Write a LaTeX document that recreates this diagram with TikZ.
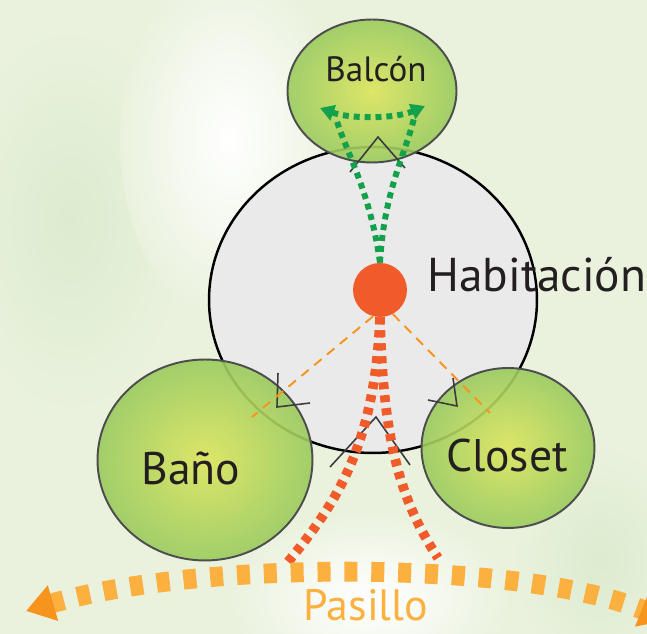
\documentclass[tikz,border=0pt]{standalone}
\usepackage{fontspec}
\setmainfont{PT Sans}
\usetikzlibrary{shapes.geometric, arrows.meta}

\definecolor{fondo}{HTML}{EAF2DE}
\definecolor{fondoV}{HTML}{DCEBCF}
\definecolor{gris}{HTML}{EAEAEA}
\definecolor{borde}{HTML}{4D4D4D}
\definecolor{puertaC}{HTML}{3C3C3C}
\definecolor{verdeC}{HTML}{DCE55C}
\definecolor{verdeB}{HTML}{9ACB5E}
\definecolor{verdeP}{HTML}{13A24B}
\definecolor{rojo}{HTML}{F15A29}
\definecolor{naranja}{HTML}{F7941D}
\definecolor{naranjaC}{HTML}{FBB040}
\definecolor{texto}{HTML}{231F20}

\begin{document}
\begin{tikzpicture}[
  x=0.02cm, y=-0.02cm,
  % Estilo general de los nodos
  every node/.style={inner sep=0pt, text=texto},
  % Zonas: habitación gris y espacios verdes
  habit/.style={ellipse, draw=black, line width=1.4pt, fill=gris},
  zona/.style={ellipse, draw=borde, line width=1.1pt, inner color=verdeC, outer color=verdeB, fill opacity=0.9},
  etiqueta/.style={anchor=base, font=\fontsize{26}{30}\selectfont},
  % Recorridos
  verdepunt/.style={draw=verdeP, line width=3.4pt, dash pattern=on 3.4pt off 2.8pt},
  rojopunt/.style={draw=rojo, line width=5.5pt, dash pattern=on 4pt off 3.4pt},
  naranjadash/.style={draw=naranja, line width=1.1pt, dash pattern=on 5.5pt off 4pt},
  pasillo/.style={draw=naranjaC, line width=11.3pt, dash pattern=on 7.4pt off 7.9pt,
    {Triangle[length=16pt, width=20pt, color=naranja]}-{Triangle[length=16pt, width=20pt, color=naranja]}},
  puerta/.style={draw=puertaC, line width=0.9pt}
]

  % Fondo
  \useasboundingbox (0,0) rectangle (647,634);
  \fill[fondo] (0,0) rectangle (647,634);
  \shade[inner color=fondoV, outer color=fondo] (70,220) ellipse [x radius=120, y radius=200];
  \shade[inner color=white, outer color=fondo] (230,140) ellipse [x radius=110, y radius=180];
  \shade[inner color=white, outer color=fondo] (370,600) ellipse [x radius=140, y radius=90];
  \shade[inner color=fondoV, outer color=fondo] (600,560) ellipse [x radius=90, y radius=120];

  % Habitación y espacios vecinos
  \node[habit, minimum width=6.56cm, minimum height=6.12cm] (hab) at (373,300) {};
  \node[zona, minimum width=3.38cm, minimum height=2.86cm] (balcon) at (372,91) {};
  \node[zona, minimum width=4.3cm, minimum height=4.02cm] (bano) at (205,460) {};
  \node[zona, minimum width=3.46cm, minimum height=3.2cm] (closet) at (508,448) {};

  % Puertas
  \draw[puerta] (350,172) -- (378,137) -- (405,168);
  \draw[puerta] (330,467) -- (376,417) -- (410,465);
  \draw[puerta] (278,373) -- (277,407) -- (310,403);
  \draw[puerta] (428,400) -- (457,406) -- (453,378);

  % Punto central
  \node[circle, fill=rojo, minimum size=1.08cm] (dot) at (380,290) {};

  % Puntos de llegada
  \coordinate (balL) at (336,118);
  \coordinate (balR) at (414,118);
  \coordinate (balTL) at (320,108);
  \coordinate (balTR) at (425,106);
  \coordinate (banoEnd) at (252,417);
  \coordinate (closetEnd) at (490,413);
  \coordinate (redL) at (287,563);
  \coordinate (redR) at (438,558);
  \coordinate (pasI) at (26,611);
  \coordinate (pasD) at (668,620);

  % Recorrido hacia el balcón
  \draw[verdepunt] (dot.north) .. controls (370,190) and (345,150) .. (balL);
  \draw[verdepunt] (dot.north) .. controls (384,190) and (407,150) .. (balR);
  \draw[verdepunt, {Triangle[length=8pt, width=9pt]}-{Triangle[length=8pt, width=9pt]}]
    (balTL) .. controls (350,119) and (395,119) .. (balTR);

  % Visuales hacia baño y closet
  \draw[naranjadash] (dot.255) -- (banoEnd);
  \draw[naranjadash] (dot.298) -- (closetEnd);

  % Salidas al pasillo
  \draw[rojopunt] (dot.south) .. controls (375,440) and (340,500) .. (redL);
  \draw[rojopunt] (dot.south) .. controls (383,440) and (400,500) .. (redR);
  \draw[pasillo] (pasI) .. controls (200,560) and (520,560) .. (pasD);

  % Textos
  \node[anchor=base, font=\fontsize{20}{24}\selectfont] (tbalcon) at (376,82) {Balcón};
  \node[anchor=base west, font=\fontsize{27}{32}\selectfont] (thab) at (427,292) {Habitación};
  \node[etiqueta] (tbano) at (191,485) {Baño};
  \node[etiqueta] (tcloset) at (507,472) {Closet};
  \node[anchor=base, font=\fontsize{25}{28}\selectfont, text=naranjaC] (tpasillo) at (366,621) {Pasillo};

\end{tikzpicture}
\end{document}
